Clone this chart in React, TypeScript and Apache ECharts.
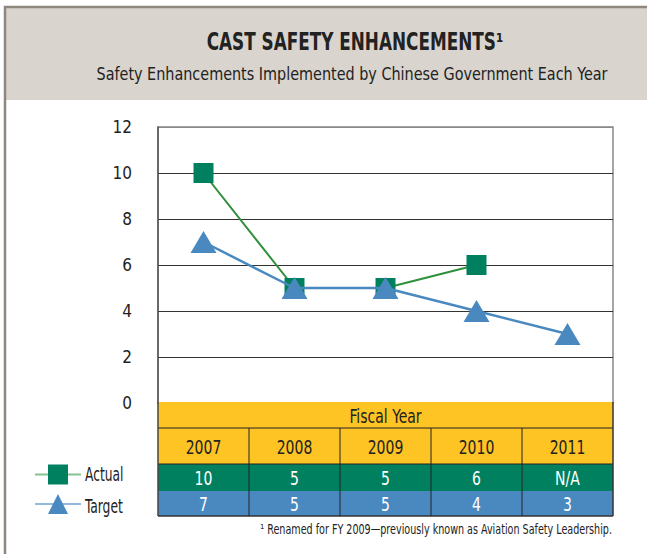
import React, { useEffect, useRef } from "react";
import * as echarts from "echarts";

const years = ["2007", "2008", "2009", "2010", "2011"];
const seriesNames = ["Actual", "Target"];
const actualValues: (number | null)[] = [10, 5, 5, 6, null];
const targetValues = [7, 5, 5, 4, 3];
const actualLabels = ["10", "5", "5", "6", "N/A"];
const targetLabels = ["7", "5", "5", "4", "3"];
const yTicks = { min: 0, max: 12, interval: 2 };
const titleText = "CAST SAFETY ENHANCEMENTS¹";
const subtitleText = "Safety Enhancements Implemented by Chinese Government Each Year";
const tableHeader = "Fiscal Year";
const footnoteText = "¹ Renamed for FY 2009—previously known as Aviation Safety Leadership.";

const FONT = "'DejaVu Sans Condensed', 'Liberation Sans Narrow', 'Noto Sans', sans-serif";
const YELLOW = "#fdc424";
const GREEN = "#00805f";
const BLUE = "#4a89c0";
const LINE_GREEN = "#2f8f3b";
const DARK = "#222";

export default function App() {
  const ref = useRef<HTMLDivElement>(null);
  useEffect(() => {
    document.body.style.margin = "0";
    const chart = echarts.init(ref.current!, null, { renderer: "svg" });
    const rowH = [26, 36, 27, 25];
    const cellText = (text: string, x: number, y: number, fill: string) => ({
      type: "text",
      x,
      y,
      scaleX: 0.82,
      style: {
        text,
        x: 0,
        y: 0,
        fill,
        font: `19px ${FONT}`,
        align: "center",
        verticalAlign: "middle",
      },
    });
    const option: any = {
      animation: false,
      backgroundColor: "#fff",
      grid: {
        left: 158,
        top: 127,
        width: 455,
        height: 276,
        show: true,
        borderColor: "#888",
        borderWidth: 1.5,
      },
      xAxis: {
        type: "category",
        data: years,
        boundaryGap: true,
        axisLine: { show: false },
        axisTick: { show: false },
        axisLabel: { show: false },
        splitLine: { show: false },
      },
      yAxis: {
        type: "value",
        min: yTicks.min,
        max: yTicks.max,
        interval: yTicks.interval,
        axisLine: { show: true, lineStyle: { color: "#555", width: 1.5 } },
        axisTick: { show: false },
        axisLabel: { fontSize: 17, color: DARK, fontFamily: FONT, margin: 26 },
        splitLine: {
          show: true,
          lineStyle: { color: ["#333", "#333", "#333", "#333", "#333", "#333", "#888"], width: 1 },
        },
      },
      legend: {
        orient: "vertical",
        left: 34,
        top: 462,
        padding: 0,
        itemWidth: 46,
        itemHeight: 25,
        itemGap: 7,
        formatter: () => "",
        textStyle: { fontSize: 1, color: DARK, fontFamily: FONT },
        data: [
          { name: seriesNames[0], itemStyle: { color: GREEN }, lineStyle: { color: "#86c190", width: 2 } },
          { name: seriesNames[1], itemStyle: { color: BLUE }, lineStyle: { color: "#93b9de", width: 2 } },
        ],
      },
      graphic: [
        {
          type: "rect",
          shape: { x: 5, y: 7, width: 650, height: 93 },
          style: { fill: "#d9d4cd" },
          z: -10,
        },
        {
          type: "polyline",
          shape: { points: [[5, 560], [5, 7], [660, 7]] },
          style: { stroke: "#8d877d", lineWidth: 2.5, fill: "none" },
          z: -5,
        },
        {
          type: "text",
          x: 355,
          y: 42,
          scaleX: 0.78,
          style: {
            text: titleText,
            fill: DARK,
            font: `bold 24px ${FONT}`,
            align: "center",
            verticalAlign: "middle",
          },
        },
        {
          type: "text",
          x: 352,
          y: 74,
          scaleX: 0.865,
          style: {
            text: subtitleText,
            fill: DARK,
            font: `18.5px ${FONT}`,
            align: "center",
            verticalAlign: "middle",
          },
        },
        {
          type: "text",
          x: 85,
          y: 475,
          scaleX: 0.72,
          style: { text: seriesNames[0], fill: DARK, font: `19px ${FONT}`, align: "left", verticalAlign: "middle" },
        },
        {
          type: "text",
          x: 85,
          y: 507,
          scaleX: 0.72,
          style: { text: seriesNames[1], fill: DARK, font: `19px ${FONT}`, align: "left", verticalAlign: "middle" },
        },
        {
          type: "text",
          x: 612,
          y: 530,
          scaleX: 0.79,
          style: {
            text: footnoteText,
            fill: DARK,
            font: `13.5px ${FONT}`,
            align: "right",
            verticalAlign: "middle",
          },
        },
      ],
      series: [
        {
          type: "custom",
          name: "table",
          clip: false,
          silent: true,
          z: 1,
          data: years.map((_, i) => [i, 0]),
          encode: { x: 0, y: 1 },
          renderItem: (params: any, api: any) => {
            const idx = params.dataIndex;
            const cs = params.coordSys;
            const cx = api.coord([idx, 0])[0];
            const w = api.size([1, 0])[0];
            const x0 = cx - w / 2;
            const top = cs.y + cs.height - 1;
            const y1 = top + rowH[0];
            const y2 = y1 + rowH[1];
            const y3 = y2 + rowH[2];
            const y4 = y3 + rowH[3];
            const children: any[] = [];
            if (idx === 0) {
              children.push({
                type: "rect",
                shape: { x: cs.x, y: top, width: cs.width, height: rowH[0] },
                style: { fill: YELLOW },
              });
              children.push(cellText(tableHeader, cs.x + cs.width / 2, top + rowH[0] / 2 + 1, DARK));
            }
            const cells = [
              { y: y1, h: rowH[1], fill: YELLOW, text: years[idx], color: DARK },
              { y: y2, h: rowH[2], fill: GREEN, text: actualLabels[idx], color: "#fff" },
              { y: y3, h: rowH[3], fill: BLUE, text: targetLabels[idx], color: "#fff" },
            ];
            cells.forEach((c) => {
              children.push({
                type: "rect",
                shape: { x: x0, y: c.y, width: w, height: c.h },
                style: { fill: c.fill },
              });
              children.push(cellText(c.text, cx, c.y + c.h / 2 + 1, c.color));
            });
            children.push({ type: "line", shape: { x1: x0, y1: y1, x2: x0 + w, y2: y1 }, style: { stroke: DARK, lineWidth: 1 } });
            children.push({ type: "line", shape: { x1: x0, y1: y2, x2: x0 + w, y2: y2 }, style: { stroke: DARK, lineWidth: 1 } });
            children.push({ type: "line", shape: { x1: x0, y1: y4, x2: x0 + w, y2: y4 }, style: { stroke: "#333", lineWidth: 1.5 } });
            if (idx > 0) {
              children.push({ type: "line", shape: { x1: x0, y1: y1, x2: x0, y2: y4 }, style: { stroke: DARK, lineWidth: 1 } });
            } else {
              children.push({ type: "line", shape: { x1: x0, y1: top, x2: x0, y2: y4 }, style: { stroke: "#444", lineWidth: 1.5 } });
            }
            if (idx === years.length - 1) {
              children.push({ type: "line", shape: { x1: x0 + w, y1: top, x2: x0 + w, y2: y4 }, style: { stroke: "#333", lineWidth: 1.5 } });
            }
            return { type: "group", children };
          },
        },
        {
          type: "line",
          name: seriesNames[0],
          data: actualValues,
          symbol: "rect",
          symbolSize: 20,
          z: 3,
          itemStyle: { color: GREEN },
          lineStyle: { color: LINE_GREEN, width: 2 },
        },
        {
          type: "line",
          name: seriesNames[1],
          data: targetValues,
          symbol: "triangle",
          symbolSize: [26, 22],
          z: 4,
          itemStyle: { color: BLUE },
          lineStyle: { color: BLUE, width: 2.5 },
        },
      ],
    };
    chart.setOption(option);
    return () => chart.dispose();
  }, []);
  return <div ref={ref} style={{ width: 647, height: 554 }} />;
}
